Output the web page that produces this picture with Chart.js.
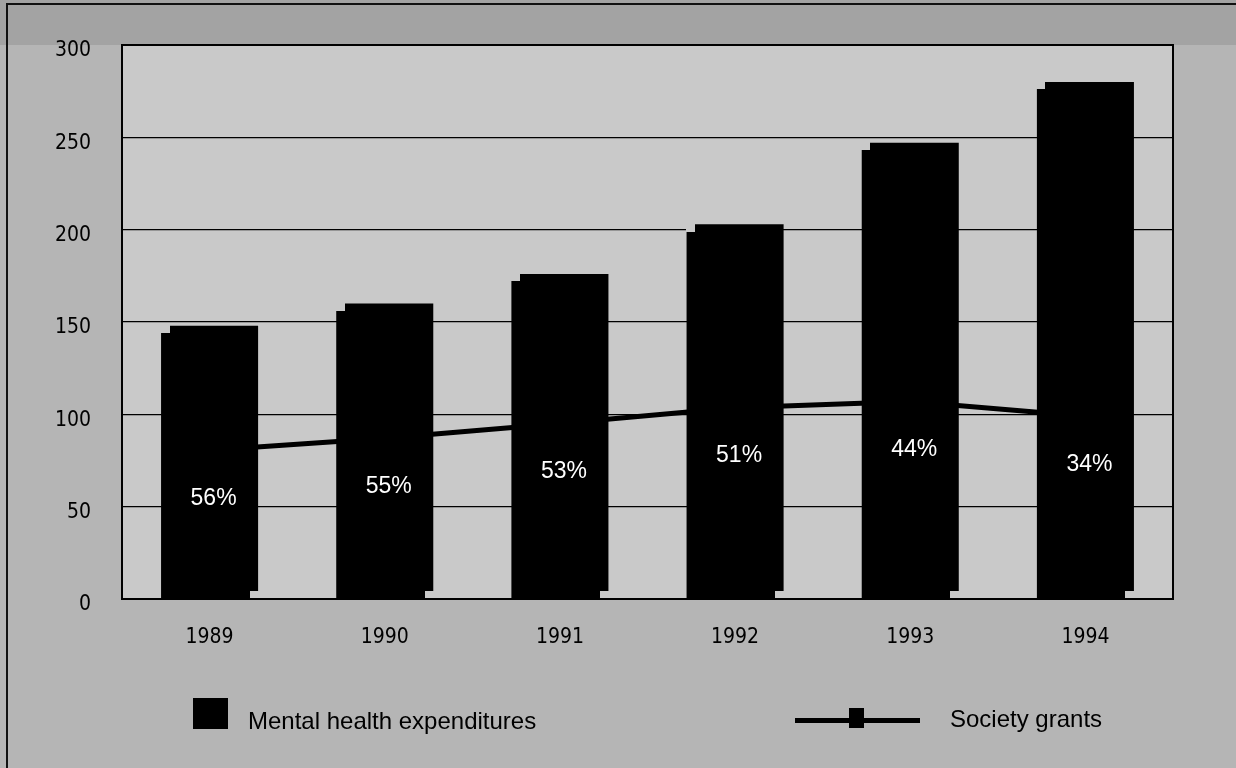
<!DOCTYPE html>
<html>
<head>
<meta charset="utf-8">
<title>Mental health expenditures and Society grants</title>
<script src="https://cdn.jsdelivr.net/npm/chart.js@4.4.0/dist/chart.umd.min.js"></script>
<style>
  html, body { margin: 0; padding: 0; background: #b5b5b5; }
  #wrap { position: relative; width: 1236px; height: 768px; overflow: hidden; }
  #wrap canvas { position: absolute; left: 0; top: 0; }
  .lg-text {
    position: absolute;
    font-family: 'Liberation Sans', Arial, sans-serif;
    font-size: 24px;
    line-height: 28px;
    color: #000;
    white-space: nowrap;
  }
  .lg-box { position: absolute; background: #000; }
</style>
</head>
<body>
<div id="wrap">
  <canvas id="myChart" width="1236" height="768"></canvas>

  <!-- legend -->
  <div class="lg-box" style="left:193px; top:698px; width:35px; height:31px;"></div>
  <div class="lg-text" style="left:248px; top:707px;">Mental health expenditures</div>

  <div class="lg-box" style="left:795px; top:718px; width:125px; height:5px;"></div>
  <div class="lg-box" style="left:849px; top:708px; width:15px; height:20px;"></div>
  <div class="lg-text" style="left:950px; top:705px;">Society grants</div>
</div>

<script>
  // values
  const years = ['1989', '1990', '1991', '1992', '1993', '1994'];
  const expenditures = [148, 160, 176, 203, 247, 280];
  const grants = [80.5, 87, 95, 103.5, 107, 99];
  const shareLabels = ['56%', '55%', '53%', '51%', '44%', '34%'];

  const plotColor = '#c9c9c9';

  // backgrounds, 3d notches on the bars, percent labels and the frame
  const decorPlugin = {
    id: 'decor',
    beforeDraw(chart) {
      const ctx = chart.ctx;
      const a = chart.chartArea;
      ctx.save();
      ctx.fillStyle = '#b5b5b5';
      ctx.fillRect(0, 0, chart.width, chart.height);
      ctx.fillStyle = '#a3a3a3';
      ctx.fillRect(0, 0, chart.width, a.top);
      ctx.fillStyle = plotColor;
      ctx.fillRect(a.left, a.top, a.right - a.left, a.bottom - a.top);
      // outer frame (top and left edges)
      ctx.fillStyle = '#111';
      ctx.fillRect(6, 3, chart.width - 6, 2);
      ctx.fillRect(6, 3, 2, chart.height - 3);
      ctx.restore();
    },
    afterDatasetsDraw(chart) {
      const ctx = chart.ctx;
      const a = chart.chartArea;
      const yScale = chart.scales.y;
      const bars = chart.getDatasetMeta(0).data;
      const step = 9, drop = 8;

      ctx.save();
      // cut the small steps that give the bars their offset look
      ctx.fillStyle = plotColor;
      bars.forEach(b => {
        const left = Math.floor(b.x - b.width / 2);
        const right = Math.ceil(b.x + b.width / 2);
        const top = Math.floor(b.y);
        const base = Math.ceil(b.base);
        ctx.fillRect(left, top, step, drop);
        ctx.fillRect(right - step, base - drop, step, drop);
      });

      // share labels, sitting a little below the grants line
      ctx.fillStyle = '#fff';
      ctx.font = '23px "Liberation Sans", Arial, sans-serif';
      ctx.textAlign = 'center';
      ctx.textBaseline = 'middle';
      bars.forEach((b, i) => {
        ctx.fillText(shareLabels[i], b.x + 4, yScale.getPixelForValue(grants[i] - 26));
      });

      // plot border
      ctx.strokeStyle = '#000';
      ctx.lineWidth = 2;
      ctx.strokeRect(a.left, a.top, a.right - a.left, a.bottom - a.top);
      ctx.restore();
    }
  };

  const tickFont = { family: "'Liberation Sans Narrow', 'DejaVu Sans Condensed', sans-serif", size: 21 };

  const ctx = document.getElementById('myChart').getContext('2d');
  const myChart = new Chart(ctx, {
    type: 'bar',
    data: {
      labels: years,
      datasets: [
        {
          type: 'bar',
          label: 'Mental health expenditures',
          data: expenditures,
          backgroundColor: '#000',
          borderWidth: 0,
          barPercentage: 0.554,
          categoryPercentage: 1,
          order: 1
        },
        {
          type: 'line',
          label: 'Society grants',
          data: grants,
          borderColor: '#000',
          borderWidth: 5,
          pointRadius: 0,
          fill: false,
          tension: 0,
          order: 2
        }
      ]
    },
    options: {
      responsive: false,
      animation: false,
      layout: { padding: { top: 45, right: 63, bottom: 0, left: 0 } },
      plugins: {
        legend: { display: false },
        tooltip: { enabled: false }
      },
      scales: {
        x: {
          grid: { display: false, drawTicks: false },
          border: { display: false },
          ticks: { color: '#000', font: tickFont, padding: 26 },
          afterFit(scale) { scale.height = 169; }
        },
        y: {
          min: 0,
          max: 300,
          grid: { color: '#000', lineWidth: 1.2, drawTicks: false },
          border: { display: false },
          ticks: { stepSize: 50, color: '#000', font: tickFont, padding: 31, labelOffset: 6 },
          afterFit(scale) { scale.width = 122; }
        }
      }
    },
    plugins: [decorPlugin]
  });
</script>
</body>
</html>
